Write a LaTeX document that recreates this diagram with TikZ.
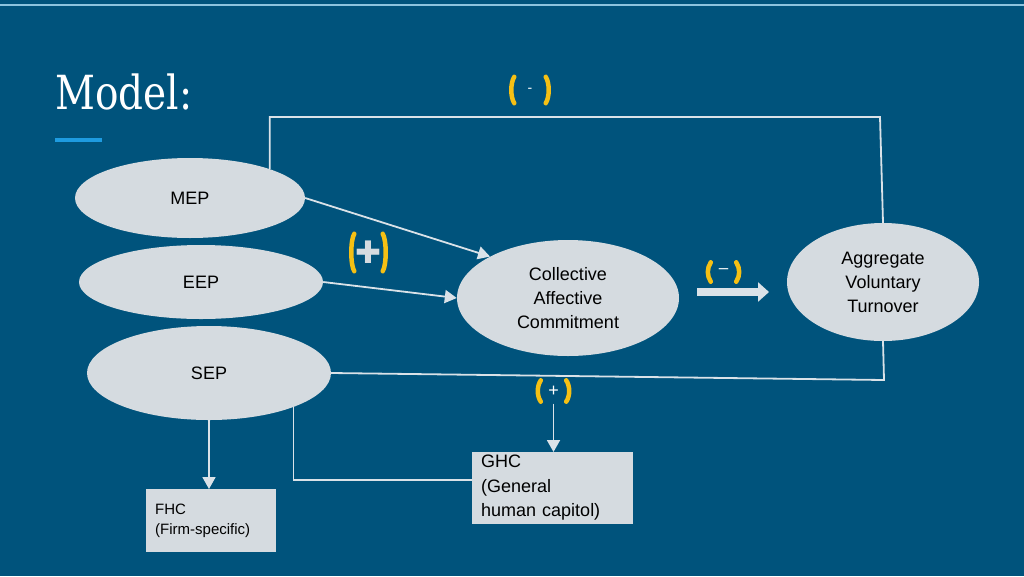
\documentclass[tikz,border=0pt]{standalone}
\usepackage{fontspec}
\usepackage{graphicx}
\setmainfont{Liberation Sans}
\newfontfamily\titlefont{DejaVu Serif}
\newfontfamily\symfont{DejaVu Sans}
\usetikzlibrary{shapes.geometric,arrows.meta}
\definecolor{slide}{RGB}{0,83,124}
\definecolor{rim}{RGB}{140,195,222}
\definecolor{bubble}{RGB}{213,219,224}
\definecolor{wire}{RGB}{218,226,232}
\definecolor{sign}{RGB}{245,192,20}
\definecolor{accent}{RGB}{30,155,224}
\tikzset{
	construct/.style={ellipse, fill=bubble, inner sep=0pt, align=center, font=\fontsize{18}{24}\selectfont},
	capbox/.style={rectangle, fill=bubble, anchor=north west, align=left, inner xsep=9pt},
	link/.style={draw=wire, line width=1.8pt},
	arr/.style={link, -{Triangle[width=13pt,length=12pt]}},
	brk/.style={rectangle, inner sep=0pt, text=white},
	paren/.style={draw=sign, line width=4.5pt, line cap=round},
}
\begin{document}
\begin{tikzpicture}[x=1pt,y=-1pt]
		\useasboundingbox[fill=slide] (0,0) rectangle (1024,576);
		\draw[rim, line width=1.5pt] (0,5) -- (1024,5);

		\node[anchor=base west, inner sep=0pt, text=white, font=\titlefont\fontsize{47}{47}\selectfont] (title) at (55,109) {\scalebox{0.83}[1]{Model:}};
		\draw[accent, line width=4pt] (55,140) -- (102,140);

		\node[construct, minimum width=230pt, minimum height=80pt] (mep) at (190,198) {MEP};
		\node[construct, minimum width=244pt, minimum height=74pt] (eep) at (201,282) {EEP};
		\node[construct, minimum width=244pt, minimum height=94pt] (sep) at (209,373) {SEP};
		\node[construct, minimum width=222pt, minimum height=116pt] (cac) at (568,298) {Collective\\Affective\\Commitment};
		\node[construct, minimum width=192pt, minimum height=118pt] (avt) at (883,282) {Aggregate\\Voluntary\\Turnover};

		\node[capbox, text width=112pt, minimum height=63pt, font=\fontsize{15}{20}\selectfont] (fhc) at (146,489) {FHC\\(Firm-specific)};
		\node[capbox, text width=143pt, inner ysep=3pt, font=\fontsize{18}{24.5}\selectfont] (ghc) at (472,452) {GHC\\(General\\human capitol)};

		\node[brk, minimum width=39pt, minimum height=26pt, font=\fontsize{14}{14}\selectfont] (minb) at (530,90) {-};
		\node[brk, minimum width=36pt, minimum height=37pt, text=bubble, font=\symfont\fontsize{31}{31}\selectfont] (plusb) at (368.5,252.5) {✚};
		\node[brk, minimum width=33pt, minimum height=19pt, font=\fontsize{17}{17}\selectfont] (negb) at (723.5,272) {\raisebox{2pt}{–}};
		\node[brk, minimum width=33pt, minimum height=21pt, font=\fontsize{18}{18}\selectfont] (posb) at (553.5,391) {+};

		\foreach \b in {minb,plusb,negb,posb} {
			\draw[paren] ([xshift=4pt]\b.north west) .. controls ([yshift=-6pt]\b.north west) and ([yshift=6pt]\b.south west) .. ([xshift=4pt]\b.south west);
			\draw[paren] ([xshift=-4pt]\b.north east) .. controls ([yshift=-6pt]\b.north east) and ([yshift=6pt]\b.south east) .. ([xshift=-4pt]\b.south east);
		}

		\coordinate (topr) at (880,117);
		\coordinate (sepr) at (884,380);
		\coordinate (bigs) at (697,292);
		\coordinate (bige) at (769,292);

		\draw[link] (mep.20) |- (topr) -- (avt.north);
		\draw[arr] (mep.east) -- (cac.152);
		\draw[arr] (eep.east) -- (cac.west);
		\draw[link] (sep.east) -- (sepr) -- (avt.south);
		\draw[arr] (sep.south) -- (sep.south |- fhc.north);
		\draw[link] (sep.-22) |- ([yshift=8pt]ghc.west);
		\draw[arr] ([yshift=-2pt]posb.south) -- (posb.south |- ghc.north);
		\draw[draw=wire, line width=7.5pt, -{Triangle[width=19pt,length=11pt]}] (bigs) -- (bige);

	\end{tikzpicture}
\end{document}
